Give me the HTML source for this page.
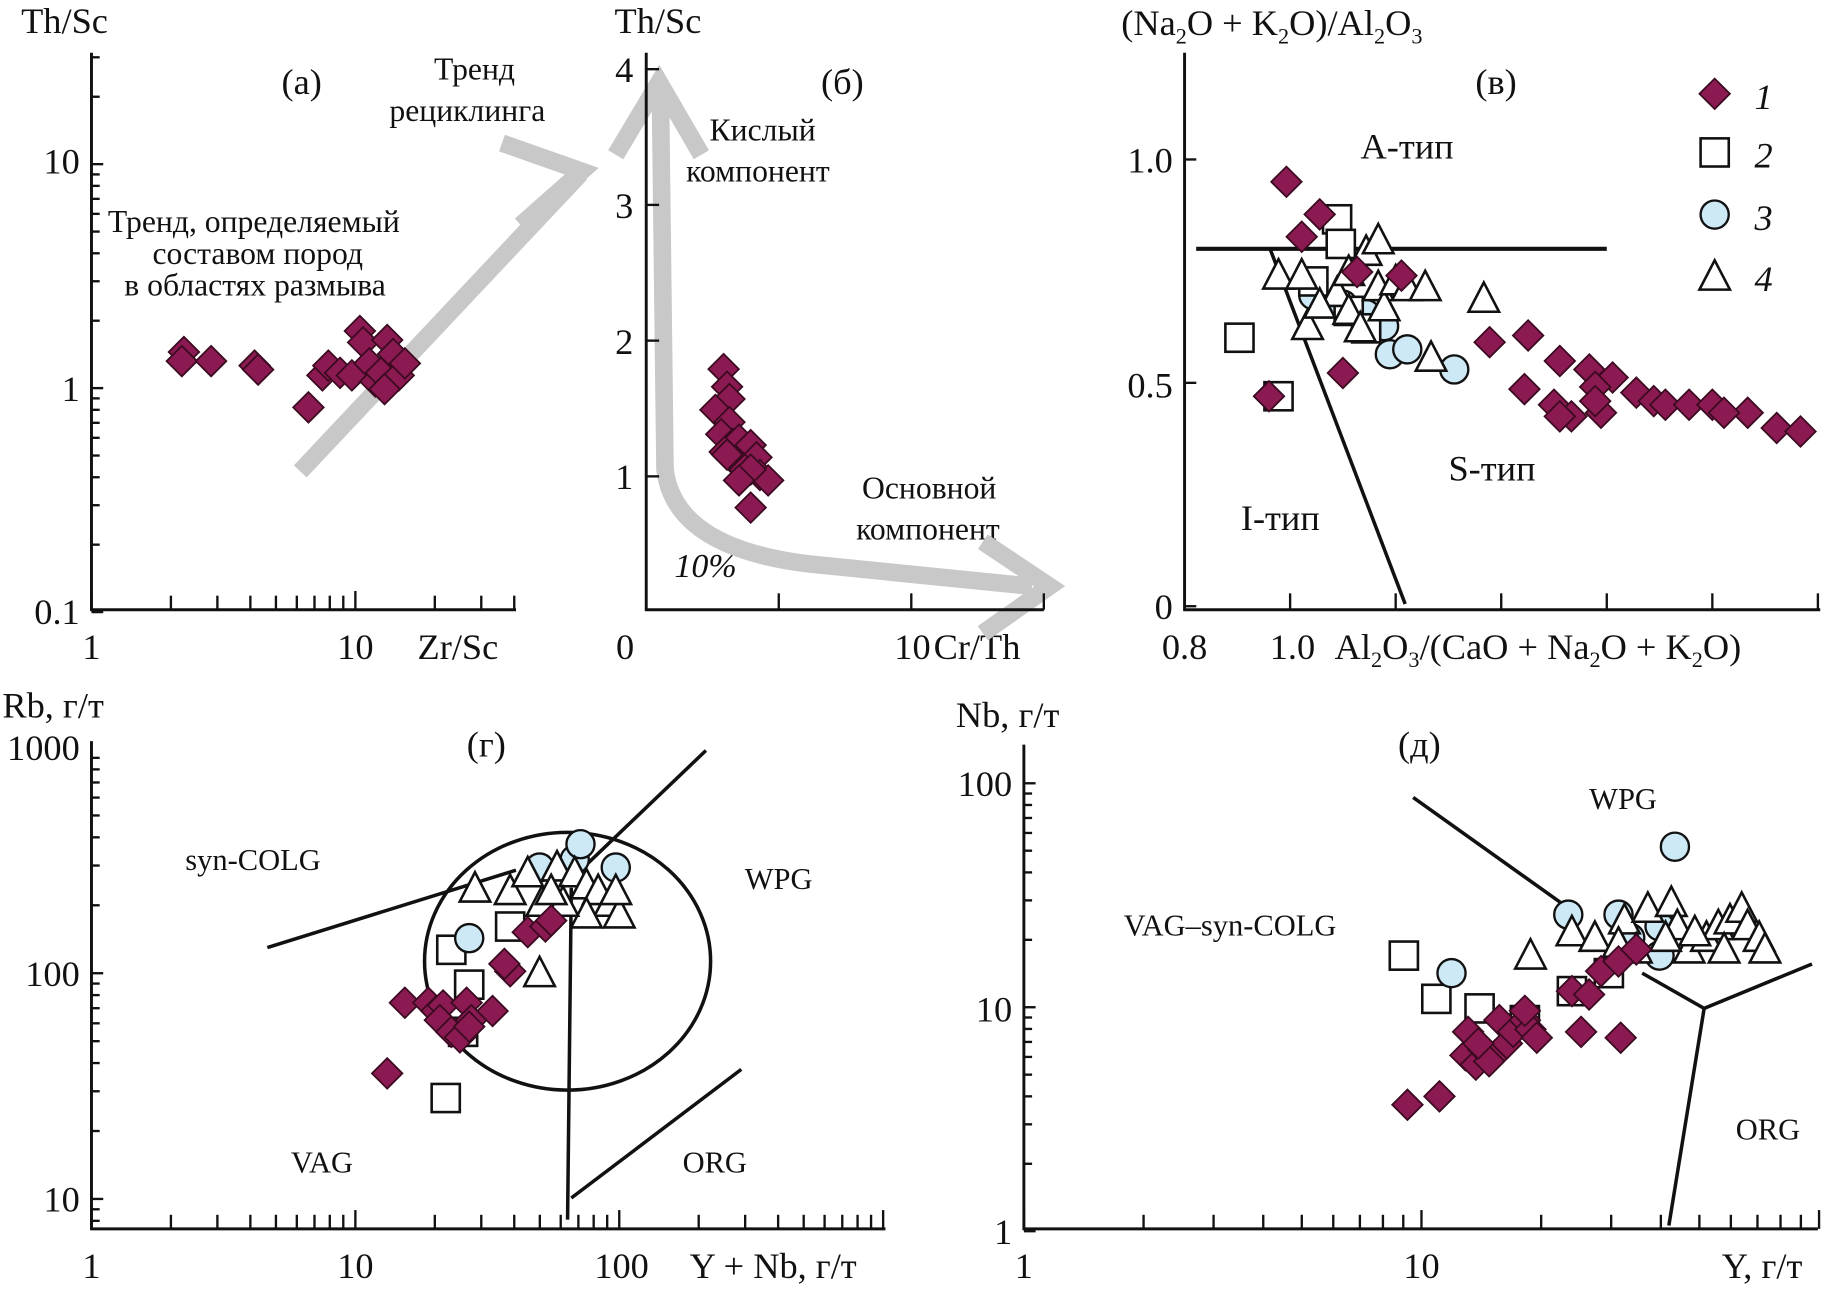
<!DOCTYPE html>
<html><head><meta charset="utf-8"><style>
html,body{margin:0;padding:0;background:#fff}
svg{display:block}
text{font-family:"Liberation Serif",serif;fill:#111}
</style></head><body>
<svg id="fig" width="1839" height="1291" viewBox="0 0 1568 1101" preserveAspectRatio="none" xmlns="http://www.w3.org/2000/svg">
<g id="static" font-size="31">
<!-- panel a text -->
<text x="18" y="28">Th/Sc</text>
<text x="240" y="80">(а)</text>
<text x="370" y="68" font-size="27">Тренд</text>
<text x="332" y="103" font-size="27">рециклинга</text>
<text x="92" y="198" font-size="27">Тренд, определяемый</text>
<text x="130" y="225" font-size="27">составом пород</text>
<text x="106" y="252" font-size="27">в областях размыва</text>
<text x="68" y="148" text-anchor="end">10</text>
<text x="68" y="342" text-anchor="end">1</text>
<text x="68" y="532" text-anchor="end">0.1</text>
<text x="78" y="562" text-anchor="middle">1</text>
<text x="303" y="562" text-anchor="middle">10</text>
<text x="356" y="562">Zr/Sc</text>
<!-- panel b text -->
<text x="524" y="28">Th/Sc</text>
<text x="700" y="80">(б)</text>
<text x="605" y="120" font-size="27">Кислый</text>
<text x="585" y="155" font-size="27">компонент</text>
<text x="735" y="425" font-size="27">Основной</text>
<text x="730" y="460" font-size="27">компонент</text>
<text x="575" y="492" font-size="29" font-style="italic">10%</text>
<text x="540" y="70" text-anchor="end">4</text>
<text x="540" y="186" text-anchor="end">3</text>
<text x="540" y="302" text-anchor="end">2</text>
<text x="540" y="417" text-anchor="end">1</text>
<text x="533" y="562" text-anchor="middle">0</text>
<text x="778" y="562" text-anchor="middle">10</text>
<text x="796" y="562">Cr/Th</text>
<!-- panel c text -->
<text x="956" y="30">(Na<tspan font-size="19" dy="7">2</tspan><tspan dy="-7">O + K</tspan><tspan font-size="19" dy="7">2</tspan><tspan dy="-7">O)/Al</tspan><tspan font-size="19" dy="7">2</tspan><tspan dy="-7">O</tspan><tspan font-size="19" dy="7">3</tspan></text>
<text x="1258" y="80">(в)</text>
<text x="1160" y="135">A-тип</text>
<text x="1235" y="410">S-тип</text>
<text x="1058" y="452">I-тип</text>
<text x="1000" y="147" text-anchor="end">1.0</text>
<text x="1000" y="339" text-anchor="end">0.5</text>
<text x="1000" y="528" text-anchor="end">0</text>
<text x="1010" y="562" text-anchor="middle">0.8</text>
<text x="1102" y="562" text-anchor="middle">1.0</text>
<text x="1138" y="562">Al<tspan font-size="19" dy="7">2</tspan><tspan dy="-7">O</tspan><tspan font-size="19" dy="7">3</tspan><tspan dy="-7">/(CaO + Na</tspan><tspan font-size="19" dy="7">2</tspan><tspan dy="-7">O + K</tspan><tspan font-size="19" dy="7">2</tspan><tspan dy="-7">O)</tspan></text>
<text x="1496" y="93" font-style="italic">1</text>
<text x="1496" y="143" font-style="italic">2</text>
<text x="1496" y="196" font-style="italic">3</text>
<text x="1496" y="248" font-style="italic">4</text>
<!-- panel d (г) text -->
<text x="2" y="612">Rb, г/т</text>
<text x="398" y="645">(г)</text>
<text x="158" y="742" font-size="26">syn-COLG</text>
<text x="635" y="758" font-size="26">WPG</text>
<text x="248" y="1000" font-size="26">VAG</text>
<text x="582" y="1000" font-size="26">ORG</text>
<text x="68" y="648" text-anchor="end">1000</text>
<text x="68" y="841" text-anchor="end">100</text>
<text x="68" y="1033" text-anchor="end">10</text>
<text x="78" y="1090" text-anchor="middle">1</text>
<text x="303" y="1090" text-anchor="middle">10</text>
<text x="530" y="1090" text-anchor="middle">100</text>
<text x="588" y="1090">Y + Nb, г/т</text>
<!-- panel e (д) text -->
<text x="815" y="620">Nb, г/т</text>
<text x="1192" y="645">(д)</text>
<text x="1355" y="690" font-size="26">WPG</text>
<text x="958" y="798" font-size="26">VAG–syn-COLG</text>
<text x="1480" y="972" font-size="26">ORG</text>
<text x="863" y="679" text-anchor="end">100</text>
<text x="863" y="871" text-anchor="end">10</text>
<text x="863" y="1061" text-anchor="end">1</text>
<text x="873" y="1090" text-anchor="middle">1</text>
<text x="1212" y="1090" text-anchor="middle">10</text>
<text x="1468" y="1090">Y, г/т</text>
<!-- trend arrows -->
<g fill="none" stroke="#c8c8c8" stroke-width="15" stroke-linejoin="miter">
<path d="M256 402 L495 148"/>
<path d="M428 122 L496 146 L444 192"/>
<path d="M563 72 L567 400 Q575 470 700 482 L880 500"/>
<path d="M525 132 L562 70 L598 132"/>
<path d="M838 462 L895 500 L838 540"/>
</g>
</g>
<g id="dyn"></g>
</svg>
<script>
// ---- panel (а): Zr/Sc vs Th/Sc ----
const aZrSc=[2.24,2.2,2.84,4.15,4.28,6.64,7.5,7.9,8.75,9.7,10.4,10.7,11.3,11.9,12.5,13.2,13.9,14.6,15.4,12.9];
const aThSc=[1.45,1.32,1.32,1.26,1.21,0.82,1.14,1.26,1.17,1.14,1.8,1.6,1.29,1.07,1.17,1.64,1.42,1.14,1.29,0.99];
// ---- panel (б): Cr/Th vs Th/Sc ----
const bCrTh=[2.92,3.05,3.14,2.61,3.14,2.83,3.27,3.5,2.96,3.72,3.94,3.41,4.16,3.05,3.72,4.29,4.6,3.94,3.94,3.5];
const bThSc=[1.79,1.66,1.57,1.49,1.40,1.31,1.24,1.27,1.18,1.18,1.23,1.10,1.14,1.16,1.05,1.01,0.97,1.05,0.77,0.97];
// ---- panel (в): A/CNK vs A/NK ----
const cDiaX=[0.993,1.022,1.056,1.127,1.211,1.100,0.960,1.378,1.451,1.444,1.511,1.567,1.611,1.500,1.533,1.578,1.511,1.589,1.656,1.689,1.711,1.756,1.800,1.867,1.922,1.967,1.822,1.578];
const cDiaY=[0.950,0.827,0.877,0.748,0.740,0.522,0.470,0.591,0.606,0.486,0.549,0.530,0.512,0.451,0.425,0.491,0.425,0.433,0.478,0.459,0.451,0.451,0.451,0.433,0.399,0.391,0.433,0.459];
const cSqX=[1.089,1.096,0.904,0.978,1.044,1.111,1.144];
const cSqY=[0.866,0.811,0.601,0.470,0.727,0.661,0.622];
const cCiX=[1.044,1.178,1.189,1.222,1.311,1.144,1.100];
const cCiY=[0.696,0.627,0.564,0.575,0.530,0.654,0.675];
const cTrX=[0.978,1.022,1.033,1.089,1.111,1.144,1.167,1.167,1.178,1.200,1.222,1.256,1.267,1.367,1.111,1.133,1.056];
const cTrY=[0.740,0.740,0.627,0.701,0.661,0.793,0.819,0.714,0.669,0.727,0.714,0.714,0.556,0.688,0.748,0.622,0.675];
const cHLine=[[0.822,0.8],[1.6,0.8]];
const cILine=[[0.962,0.8],[1.218,0.005]];
// ---- panel (г): Y+Nb vs Rb ----
const dDiaX=[13.2,15.4,18.9,20.3,21.5,20.9,23.1,24.9,26.4,27.5,33.1,27,38.6,36.7,45,52.5,55.2];
const dDiaY=[36,74,74,68,72,62,55,52,74,62,68,58,102,110,152,161,171];
const dSqX=[22,23.1,27,25.6,38.6];
const dSqY=[28,127,89,55,161];
const dCiX=[27,49.9,67.8,97,71.3,55.2];
const dCiY=[143,294,319,294,373,205];
const dTrX=[28.4,38.6,45,50.9,58.1,67.8,75.1,83.2,92.1,100,75.1,49.9,61.2,97,55.2];
const dTrY=[237,231,277,205,294,277,245,231,205,182,182,100,205,231,231];
const dLines=[[[4.64,130],[40.6,286]],[[65.8,261],[213,970]],[[65.8,239],[63.7,8.1]],[[65.8,10.1],[290,37.5]]];
const dCircle=[63.7,113,0.542,0.571];
// ---- panel (д): Y vs Nb ----
const eDiaX=[9.22,11.1,12.9,13.1,13.7,14.3,15.3,15.7,16.4,17,18.2,18.8,19.5,18.2,23.9,25.2,26.4,28.3,31.3,34.7,31.7,14.8,13.9];
const eDiaY=[3.67,4.0,6.1,7.76,5.54,6.48,6.1,8.76,6.89,7.76,8.76,7.96,7.31,9.64,11.8,7.76,11.4,14.5,16,18.1,7.31,5.74,6.89];
const eSqX=[9.03,10.9,14,18.2,23.9,29.6];
const eSqY=[17,10.9,9.88,8.76,11.8,14.2];
const eCiX=[11.9,23.4,31.3,43.4,39.7,39.7,33.5];
const eCiY=[14.2,25.9,25.9,52.1,23,17,20.4];
const eTrX=[18.8,23.9,27.3,32.4,37.1,42.5,44,47.1,52.1,55.8,59.7,63.9,66.1,70.7,73.1,31.3,48.7,41.1,57.7,34.7];
const eTrY=[17,21.6,20.4,24.4,27.5,29.2,23,18.1,20.4,23,24.4,27.5,23,20.4,18.1,19.2,21.6,20.4,18.1,18.1];
const eLines=[[[9.53,86.5],[24.7,25.9]],[[35.9,14.2],[51.4,9.88],[96,15.6]],[[51.4,9.88],[41.9,1.06]]];

const L=Math.log10;
const ax={
 a:{x:v=>78+225*L(v),y:v=>331-191*L(v)},
 b:{x:v=>551+22.6*v,y:v=>522-115.75*v},
 c:{x:v=>1010+450*(v-0.8),y:v=>517-381*v},
 d:{x:v=>78+225*L(v),y:v=>830-192.5*(L(v)-2)},
 e:{x:v=>873+339*L(v),y:v=>859-191*(L(v)-1)}
};
const NS='http://www.w3.org/2000/svg';
const dyn=document.getElementById('dyn');
function mk(tag,at){const e=document.createElementNS(NS,tag);for(const k in at)e.setAttribute(k,at[k]);dyn.appendChild(e);return e;}
function line(x1,y1,x2,y2,w,nm){const e=mk('line',{x1:x1,y1:y1,x2:x2,y2:y2,stroke:'#111','stroke-width':w});

return e;}
function marker(kind,cx,cy,nm){let e;
 if(kind==='dia'){e=mk('polygon',{points:`${cx},${cy-13} ${cx+13},${cy} ${cx},${cy+13} ${cx-13},${cy}`,fill:'#8b1a52',stroke:'#3a0a20','stroke-width':1.5});}
 else if(kind==='sq'){e=mk('rect',{x:cx-12,y:cy-12,width:24,height:24,fill:'#fff',stroke:'#111','stroke-width':2.2});}
 else if(kind==='ci'){e=mk('circle',{cx:cx,cy:cy,r:12,fill:'#cde9f6',stroke:'#111','stroke-width':2});}
 else {e=mk('polygon',{points:`${cx},${cy-14} ${cx+13},${cy+11} ${cx-13},${cy+11}`,fill:'#fff',stroke:'#111','stroke-width':2.2});}
 
 
}
function series(p,kind,xs,ys,nm){for(let i=0;i<xs.length;i++)marker(kind,ax[p].x(xs[i]),ax[p].y(ys[i]),nm);}
function poly(p,pts,w,nm){const d=pts.map((q,i)=>(i?'L':'M')+ax[p].x(q[0])+' '+ax[p].y(q[1])).join(' ');
 const e=mk('path',{d:d,fill:'none',stroke:'#111','stroke-width':w});
 
 }
function logTicksY(p,x0,dec0,lo,hi){for(let dec=dec0;dec<hi;dec*=10)for(let m=1;m<10;m++){const v=dec*m;if(v>hi)break;if(v<lo)continue;const y=ax[p].y(v);line(x0,y,x0+(m===1?10:7),y,2,'y-tick');}}
function logTicksX(p,y0,lo,hi){for(let dec=lo;dec<hi;dec*=10)for(let m=1;m<10;m++){const v=dec*m;if(v>hi)break;const x=ax[p].x(v);line(x,y0,x,y0-(m===1?16:12),2,'x-tick');}}

// axes
line(78,45,78,521,2.5,'a-y-axis');line(77,520,440,520,2.5,'a-x-axis');
logTicksY('a',78,0.1,0.1,31);logTicksX('a',520,1,41);
line(551,45,551,521,2.5,'b-y-axis');line(550,520,890,520,2.5,'b-x-axis');
[1,2,3,4].forEach(v=>line(551,ax.b.y(v),562,ax.b.y(v),2,'b-y-tick'));
[5,10,15].forEach(v=>line(ax.b.x(v),520,ax.b.x(v),506,2,'b-x-tick'));
line(1010,45,1010,521,2.5,'c-y-axis');line(1009,520,1552,520,2.5,'c-x-axis');
[0,0.5,1.0].forEach(v=>line(1010,ax.c.y(v),1020,ax.c.y(v),2,'c-y-tick'));
[1.0,1.2,1.4,1.6,1.8,2.0].forEach(v=>line(ax.c.x(v),520,ax.c.x(v),506,2,'c-x-tick'));
line(78,632,78,1049,2.5,'d-y-axis');line(77,1048,755,1048,2.5,'d-x-axis');
logTicksY('d',78,1,8,1000);logTicksX('d',1048,1,1001);
line(873,635,873,1049,2.5,'e-y-axis');line(872,1048,1550,1048,2.5,'e-x-axis');
logTicksY('e',873,1,1,150);logTicksX('e',1048,1,101);

// boundaries
poly('c',cHLine,3.5,'c-a-type-boundary');poly('c',cILine,3,'c-i-type-boundary');
dLines.forEach(l=>poly('d',l,3,'d-field-boundary'));
const ce=mk('ellipse',{cx:ax.d.x(dCircle[0]),cy:ax.d.y(dCircle[1]),rx:225*dCircle[2],ry:192.5*dCircle[3],fill:'none',stroke:'#111','stroke-width':3});


eLines.forEach(l=>poly('e',l,3,'e-field-boundary'));

// data
series('a','dia',aZrSc,aThSc,'a-point-1');
series('b','dia',bCrTh,bThSc,'b-point-1');
series('c','ci',cCiX,cCiY,'c-point-3');series('c','sq',cSqX,cSqY,'c-point-2');
series('c','tri',cTrX,cTrY,'c-point-4');series('c','dia',cDiaX,cDiaY,'c-point-1');
series('d','sq',dSqX,dSqY,'d-point-2');series('d','ci',dCiX,dCiY,'d-point-3');
series('d','tri',dTrX,dTrY,'d-point-4');series('d','dia',dDiaX,dDiaY,'d-point-1');
series('e','sq',eSqX,eSqY,'e-point-2');series('e','ci',eCiX,eCiY,'e-point-3');
series('e','tri',eTrX,eTrY,'e-point-4');series('e','dia',eDiaX,eDiaY,'e-point-1');
// legend
marker('dia',1462,80,'legend-marker-1');marker('sq',1462,130,'legend-marker-2');
marker('ci',1462,183,'legend-marker-3');marker('tri',1462,236,'legend-marker-4');
</script>
</body></html>
